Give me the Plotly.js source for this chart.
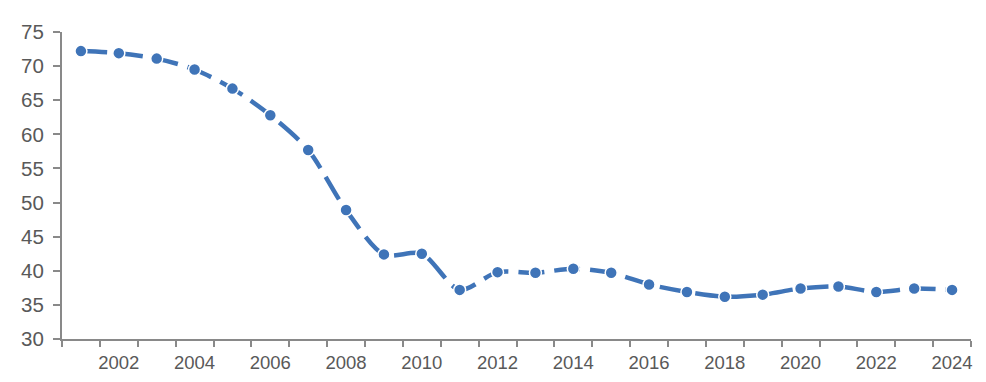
<!DOCTYPE html>
<html><head><meta charset="utf-8">
<script src="https://cdn.plot.ly/plotly-3.0.1.min.js"></script>
<style>html,body{margin:0;padding:0;background:#fff}#chart{width:986px;height:382px}</style>
</head><body><div id="chart"></div>
<script>
const years = ["2001","2002","2003","2004","2005","2006","2007","2008","2009","2010","2011","2012","2013","2014","2015","2016","2017","2018","2019","2020","2021","2022","2023","2024"];
const values = [72.2,71.9,71.1,69.5,66.7,62.8,57.7,48.9,42.4,42.5,37.2,39.8,39.7,40.3,39.7,38.0,36.9,36.2,36.5,37.4,37.7,36.9,37.4,37.2];
const xTickText = years.map(y => (parseInt(y) % 2 === 0 ? y : ""));
const yTicks = [30,35,40,45,50,55,60,65,70,75];

const trace = {
  x: years, y: values, type: "scatter", mode: "lines+markers",
  line: {color: "#3F74B8", width: 4.5, shape: "spline", smoothing: 0.8, dash: "26px,10px"},
  marker: {color: "#3F74B8", size: 12, line: {color: "#ffffff", width: 1.5}},
  cliponaxis: false, hoverinfo: "skip"
};
const axisColor = "#898989";
const layout = {
  width: 986, height: 382,
  margin: {l: 62, r: 15, t: 32, b: 43},
  paper_bgcolor: "#fff", plot_bgcolor: "#fff",
  showlegend: false,
  font: {family: "Liberation Sans, Arial, sans-serif", color: "#595959", size: 18},
  xaxis: {
    type: "category", tickmode: "array", tickvals: years, ticktext: xTickText,
    tickson: "boundaries", ticks: "outside", ticklen: 6, tickwidth: 2, tickcolor: axisColor,
    showline: true, linecolor: axisColor, linewidth: 2, showgrid: false, zeroline: false,
    tickangle: 0, ticklabelstandoff: 6, tickfont: {size: 18.5, color: "#595959"}, range: [-0.5, 23.5]
  },
  yaxis: {
    range: [30, 75], tickmode: "array", tickvals: yTicks, ticks: "outside", ticklen: 7,
    tickwidth: 2, tickcolor: axisColor, showline: true, linecolor: axisColor, linewidth: 2,
    showgrid: false, zeroline: false, ticklabelstandoff: 5, tickfont: {size: 20.5, color: "#595959"}
  }
};
Plotly.newPlot("chart", [trace], layout, {staticPlot: true, displayModeBar: false});
</script></body></html>
